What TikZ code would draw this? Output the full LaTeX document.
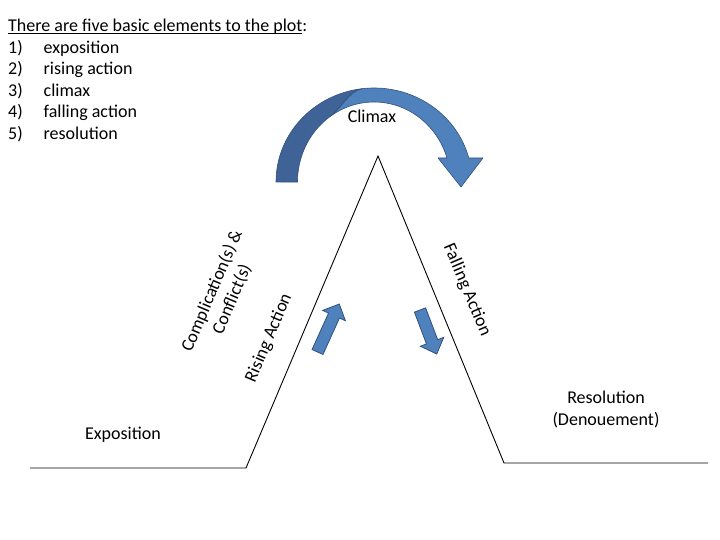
\documentclass[tikz,border=0pt]{standalone}
\usepackage{fontspec}
\setmainfont{Carlito}
\definecolor{lightblue}{RGB}{79,129,189}
\definecolor{darkblue}{RGB}{63,98,151}
\definecolor{edgeblue}{RGB}{50,82,124}
\newcommand\plotul[1]{\setbox0\hbox{#1}\rlap{\rule[-2.2pt]{\wd0}{0.9pt}}\box0}
\begin{document}
\begin{tikzpicture}[x=1pt,y=1pt,
  lbl/.style={inner sep=0pt, font=\fontsize{18}{21.6}\selectfont},
  plotline/.style={line width=0.9pt, black},
  bandfill/.style={draw=edgeblue, line width=0.6pt, line join=round},
  blockfill/.style={fill=lightblue, draw=edgeblue, line width=0.8pt, line join=miter}]
\useasboundingbox (0,0) rectangle (720,540);
% title and list
\node[lbl, anchor=base west] (title) at (8,508.3) {\plotul{There are five basic elements to the plot}:};
\foreach \n/\t [count=\i] in {1/exposition, 2/rising action, 3/climax, 4/falling action, 5/resolution}
  \node[lbl, anchor=base west] (item\i) at (8,508.3-21.5*\i) {\makebox[35.5pt][l]{\n)}\t};
% plot line
\coordinate (e0) at (30,72);
\coordinate (e1) at (246,72);
\coordinate (pk) at (378,384);
\coordinate (r0) at (504,77);
\coordinate (r1) at (708,77);
\draw[plotline, line join=miter] (e0) -- (e1) -- (pk) -- (r0) -- (r1);
% climax curved arrow: outer ellipse centre (374,358) 98x94, inner 76.5x80
\coordinate (seamin) at (330.1,423.5);
\coordinate (seamout) at (362.1,451.3);
\filldraw[bandfill, fill=lightblue]
  (seamout) arc[start angle=97, end angle=14.8, x radius=98, y radius=94]
  -- (483,382) -- (461,353) -- (438,382) -- (447,382)
  arc[start angle=17.46, end angle=125, x radius=76.5, y radius=80]
  .. controls (339.8,430.6) and (350.2,449.9) .. (seamout) -- cycle;
\filldraw[bandfill, fill=darkblue]
  (276,358) arc[start angle=180, end angle=97, x radius=98, y radius=94]
  .. controls (350.2,449.9) and (339.8,430.6) .. (seamin)
  arc[start angle=125, end angle=180, x radius=76.5, y radius=80] -- cycle;
% small block arrows
\begin{scope}[shift={(317.5,188)}, rotate=65.6]
  \filldraw[blockfill] (0,-6) -- (40,-6) -- (40,-12.5) -- (52.7,0) -- (40,12.5) -- (40,6) -- (0,6) -- cycle;
\end{scope}
\begin{scope}[shift={(420,230)}, rotate=-69.2]
  \filldraw[blockfill] (0,-6) -- (34,-6) -- (34,-12.5) -- (47.1,0) -- (34,12.5) -- (34,6) -- (0,6) -- cycle;
\end{scope}
% labels
\node[lbl, anchor=base] (climax) at (372,417) {Climax};
\node[lbl, anchor=base] (expo) at (123,100) {Exposition};
\node[lbl, anchor=base] (reso) at (606,136) {Resolution};
\node[lbl, anchor=base] (deno) at (606,114) {(Denouement)};
\node[lbl, rotate=67, align=center] (comp) at (222,245) {Complication(s) \&\\Conflict(s)};
\node[lbl, rotate=67] (rise) at (269,202) {Rising Action};
\node[lbl, rotate=-67] (fall) at (467,250) {Falling Action};
\end{tikzpicture}
\end{document}
